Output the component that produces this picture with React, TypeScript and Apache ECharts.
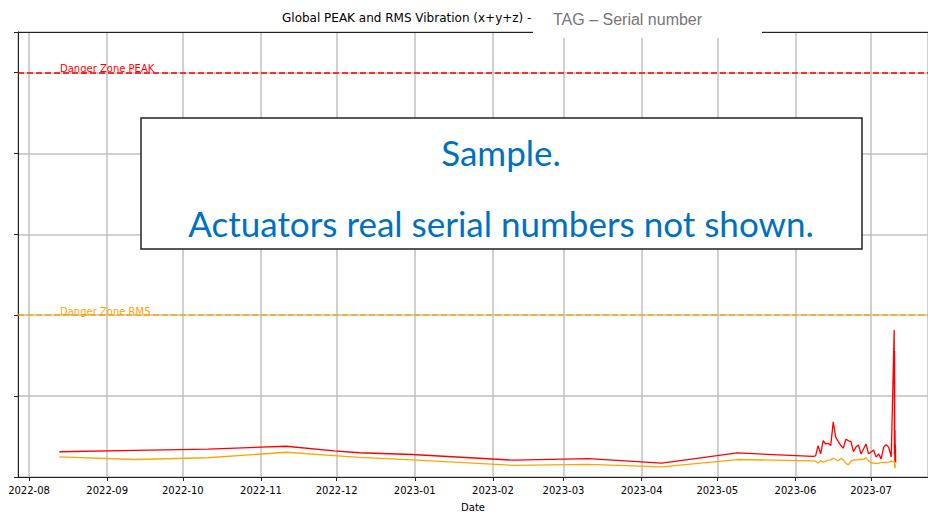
import React, { useEffect, useRef } from "react";
import * as echarts from "echarts";

const dates: string[] = [
  "2022-08-13", "2022-09-12", "2022-10-11", "2022-11-11", "2022-11-30", "2022-12-10",
  "2022-12-31", "2023-02-09", "2023-03-11", "2023-04-09", "2023-05-09", "2023-06-08",
  "2023-06-09", "2023-06-10", "2023-06-11", "2023-06-12", "2023-06-13", "2023-06-14",
  "2023-06-15", "2023-06-16", "2023-06-17", "2023-06-18", "2023-06-19", "2023-06-20",
  "2023-06-21", "2023-06-22", "2023-06-23", "2023-06-24", "2023-06-25", "2023-06-26",
  "2023-06-27", "2023-06-28", "2023-06-29", "2023-06-30", "2023-07-01", "2023-07-02",
  "2023-07-03", "2023-07-04", "2023-07-05", "2023-07-06", "2023-07-07", "2023-07-08",
  "2023-07-09",
  "2023-07-10 04:00", "2023-07-10 06:00", "2023-07-10 08:00", "2023-07-10 10:00",
  "2023-07-10 12:00", "2023-07-10 14:00", "2023-07-10 16:00", "2023-07-10 18:00",
];

const peakValues: number[] = [
  1.56, 1.64, 1.72, 1.9, 1.61, 1.5, 1.39, 1.04, 1.13, 0.86, 1.49, 1.27,
  1.3, 1.94, 1.43, 2.25, 2.04, 2.08, 1.94, 3.41, 2.45, 2.19, 1.95, 1.78,
  2.33, 2.25, 2.19, 1.57, 1.85, 1.98, 1.43, 1.73, 2.04, 1.43, 1.55, 1.67,
  1.23, 1.43, 1.12, 1.84, 2.0, 1.84, 1.23,
  9.09, 1.43, 7.78, 1.0, 2.9, 1.0, 2.0, 0.9,
];

const rmsValues: number[] = [
  1.24, 1.08, 1.19, 1.53, 1.32, 1.21, 1.06, 0.72, 0.78, 0.63, 1.08, 1.0,
  0.98, 0.86, 1.02, 0.92, 0.98, 1.04, 1.06, 1.16, 1.08, 1.0, 1.15, 1.06,
  0.84, 0.75, 0.98, 1.06, 1.04, 1.08, 1.08, 1.1, 1.18, 1.0, 0.88, 0.86,
  0.84, 0.84, 0.9, 0.9, 0.9, 0.92, 0.98,
  0.95, 1.0, 0.7, 0.6, 0.8, 0.55, 0.7, 0.62,
];

const dangerPeak = 25;
const dangerRms = 10;

const titleText = "Global PEAK and RMS Vibration (x+y+z) - ";
const tagText = "TAG \u2013 Serial number";
const sampleLine1 = "Sample.";
const sampleLine2 = "Actuators real serial numbers not shown.";

export default function App() {
  const ref = useRef<HTMLDivElement>(null);
  useEffect(() => {
    if (!ref.current) return;
    const chart = echarts.init(ref.current, null, { renderer: "svg" });
    const peakData = dates.map((d, i) => [d, peakValues[i]]);
    const rmsData = dates.map((d, i) => [d, rmsValues[i]]);
    const font = "DejaVu Sans";
    const DAY = 86400000;
    const xMin = new Date(2022, 6, 27, 15).getTime();
    const xMax = new Date(2023, 6, 23, 14).getTime();
    chart.setOption({
      animation: false,
      backgroundColor: "#ffffff",
      title: {
        text: titleText,
        left: 282,
        top: 12,
        padding: 0,
        textStyle: { fontFamily: font, fontSize: 12, fontWeight: "normal", color: "#000" },
      },
      grid: {
        left: 18,
        right: 0,
        top: 32,
        bottom: 37,
        show: false,
        containLabel: false,
      },
      xAxis: [
        {
          type: "time",
          min: xMin,
          max: xMax,
          minInterval: 28 * DAY,
          maxInterval: 31 * DAY,
          name: "Date",
          nameLocation: "middle",
          nameGap: 25,
          nameTextStyle: { fontFamily: font, fontSize: 10, color: "#000" },
          axisLine: { show: true, lineStyle: { color: "#222", width: 1 } },
          axisTick: { show: true, inside: false, length: 4, lineStyle: { color: "#222", width: 1 } },
          axisLabel: {
            fontFamily: font,
            fontSize: 10,
            color: "#000",
            margin: 8,
            showMinLabel: false,
            showMaxLabel: false,
            formatter: (v: number) => {
              const d = new Date(v);
              const m = d.getMonth() + 1;
              return d.getFullYear() + "-" + (m < 10 ? "0" + m : "" + m);
            },
          },
          splitLine: { show: true, lineStyle: { color: "#c0c0c0", width: 1.5 } },
        },
        {
          type: "time",
          position: "top",
          min: xMin,
          max: xMax,
          axisLine: { show: true, lineStyle: { color: "#222", width: 1 } },
          axisTick: { show: false },
          axisLabel: { show: false },
          splitLine: { show: false },
        },
      ],
      yAxis: {
        type: "value",
        min: 0,
        max: 27.5,
        interval: 5,
        axisLine: { show: true, lineStyle: { color: "#222", width: 1 } },
        axisTick: { show: true, inside: false, length: 4, lineStyle: { color: "#222", width: 1 } },
        axisLabel: { show: false },
        splitLine: { show: true, lineStyle: { color: "#c0c0c0", width: 1.5 } },
      },
      series: [
        {
          name: "PEAK",
          type: "line",
          data: peakData,
          showSymbol: false,
          lineStyle: { color: "#ff0000", width: 1.3 },
          itemStyle: { color: "#ff0000" },
          z: 3,
          markLine: {
            silent: true,
            symbol: "none",
            data: [{ yAxis: dangerPeak }],
            lineStyle: { color: "#ff0000", type: [6, 3], width: 1.5 },
            label: {
              show: true,
              formatter: "Danger Zone PEAK",
              position: "insideStartTop",
              distance: [42, -1],
              color: "#ff0000",
              fontFamily: font,
              fontSize: 10,
            },
          },
        },
        {
          name: "RMS",
          type: "line",
          data: rmsData,
          showSymbol: false,
          lineStyle: { color: "#ffa500", width: 1.3 },
          itemStyle: { color: "#ffa500" },
          z: 4,
          markLine: {
            silent: true,
            symbol: "none",
            data: [{ yAxis: dangerRms }],
            lineStyle: { color: "#ffa500", type: [6, 3], width: 1.5 },
            label: {
              show: true,
              formatter: "Danger Zone RMS",
              position: "insideStartTop",
              distance: [42, -1],
              color: "#ffa500",
              fontFamily: font,
              fontSize: 10,
            },
          },
        },
      ],
      graphic: [
        {
          type: "rect",
          z: 100,
          shape: { x: 533, y: 0, width: 229, height: 38 },
          style: { fill: "#ffffff", stroke: null },
        },
        {
          type: "text",
          z: 101,
          x: 553,
          y: 19,
          style: {
            text: tagText,
            fill: "#767676",
            fontFamily: "Liberation Sans",
            fontSize: 16,
            verticalAlign: "middle",
          },
        },
        {
          type: "rect",
          z: 100,
          shape: { x: 141, y: 118, width: 721, height: 131 },
          style: { fill: "#ffffff", stroke: "#222", lineWidth: 1.5 },
        },
        {
          type: "text",
          z: 101,
          x: 501,
          y: 152,
          style: {
            text: sampleLine1,
            fill: "#0070C0",
            fontFamily: "Lato",
            fontSize: 35,
            align: "center",
            verticalAlign: "middle",
          },
        },
        {
          type: "text",
          z: 101,
          x: 501,
          y: 223,
          style: {
            text: sampleLine2,
            fill: "#0070C0",
            fontFamily: "Lato",
            fontSize: 35,
            align: "center",
            verticalAlign: "middle",
          },
        },
      ],
    });
    return () => chart.dispose();
  }, []);
  return (
    <div
      ref={ref}
      style={{ position: "absolute", left: 0, top: 0, width: 928, height: 517 }}
    />
  );
}
